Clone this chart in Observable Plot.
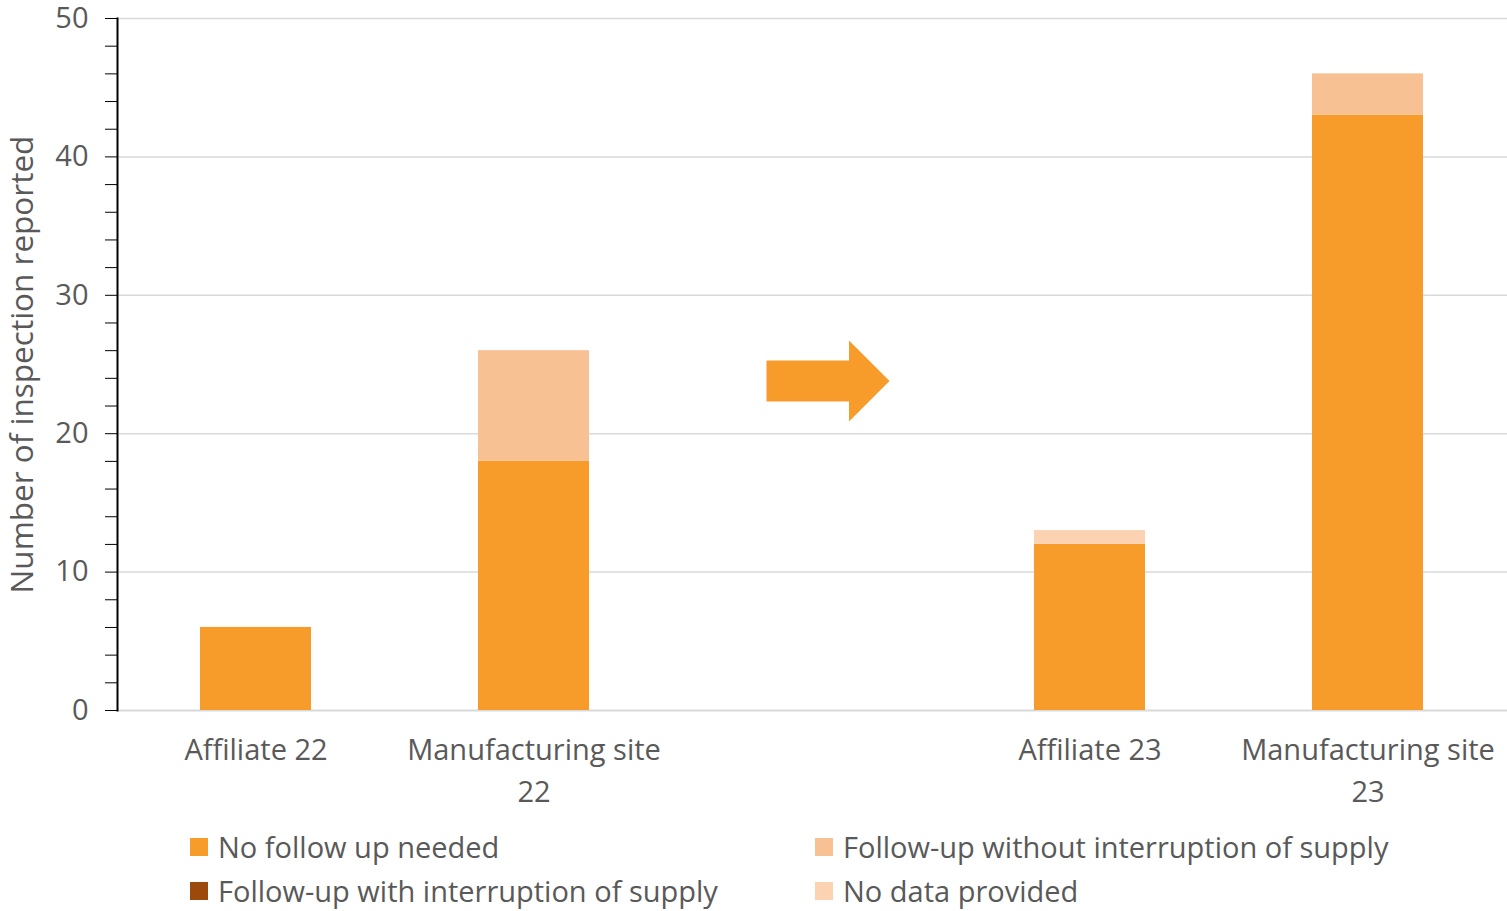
<!DOCTYPE html>
<html><head><meta charset="utf-8">
<script src="https://cdn.jsdelivr.net/npm/d3@7"></script>
<script src="https://cdn.jsdelivr.net/npm/@observablehq/plot@0.6"></script>
<style>
body{margin:0;background:#fff;font-family:"Open Sans", sans-serif;}
#legend{position:relative;height:90px;width:1507px;}
.li{position:absolute;display:flex;align-items:center;font-size:29px;color:#595959;white-space:nowrap;}
.sw{width:18px;height:18px;margin-right:10px;}
</style></head>
<body>
<div id="chart"></div>
<div id="legend"></div>
<script>
const categories = ["Affiliate 22", "Manufacturing site 22", "", "Affiliate 23", "Manufacturing site 23"];
const catLabels = ["Affiliate 22", "Manufacturing site\n22", "", "Affiliate 23", "Manufacturing site\n23"];
const seriesNames = ["No follow up needed", "Follow-up without interruption of supply", "Follow-up with interruption of supply", "No data provided"];
const seriesColors = ["#f79b2b", "#f8c193", "#9b4a0b", "#fcd3b2"];
const noFollowUp = [6, 18, null, 12, 43];
const followUpWithout = [0, 8, null, 0, 3];
const followUpWith = [0, 0, null, 0, 0];
const noData = [0, 0, null, 1, 0];
const yTicks = [0, 10, 20, 30, 40, 50];
const arrowMarker = [{cat: "", y: 23.8}];

const seriesValues = [noFollowUp, followUpWithout, followUpWith, noData];
const data = [];
categories.forEach((c, i) => {
  seriesValues.forEach((vals, s) => {
    if (vals[i] != null && vals[i] > 0) data.push({cat: c, series: seriesNames[s], value: vals[i]});
  });
});
const labelOf = new Map(categories.map((c, i) => [c, catLabels[i]]));

const arrowSymbol = {
  draw(ctx) {
    ctx.moveTo(-61.5, -20.5);
    ctx.lineTo(21, -20.5);
    ctx.lineTo(21, -40.5);
    ctx.lineTo(61.5, 0);
    ctx.lineTo(21, 40.5);
    ctx.lineTo(21, 20.5);
    ctx.lineTo(-61.5, 20.5);
    ctx.closePath();
  }
};

const plot = Plot.plot({
  width: 1507,
  height: 820,
  marginTop: 18,
  marginBottom: 110,
  marginLeft: 117,
  marginRight: 0,
  style: {fontFamily: "'Open Sans', sans-serif", color: "#595959", background: "#fff", overflow: "visible"},
  x: {domain: categories, paddingInner: 0.6, paddingOuter: 0.3, label: null},
  y: {domain: [0, 50], label: null},
  color: {domain: seriesNames, range: seriesColors},
  marks: [
    Plot.ruleY(yTicks.filter(d => d > 0), {stroke: "#d9d9d9", strokeWidth: 1.5}),
    Plot.ruleY([0], {stroke: "#d9d9d9", strokeWidth: 2}),
    Plot.barY(data, {x: "cat", y: "value", fill: "series", order: seriesNames}),
    Plot.dot(arrowMarker, {x: "cat", y: "y", symbol: arrowSymbol, r: 10, fill: "#f79b2b", stroke: null, dx: 16}),
    Plot.frame({anchor: "left", stroke: "#000", strokeWidth: 2}),
    Plot.axisY({ticks: d3.range(0, 51, 2), tickFormat: d => d % 10 === 0 ? d : "", tickSize: 12, tickPadding: 17, stroke: "#000", fontSize: 29, fill: "#595959", label: null}),
    Plot.axisX({tickSize: 0, tickPadding: 20, tickFormat: d => labelOf.get(d), fontSize: 29, fill: "#595959", lineHeight: 1.45, label: null}),
    Plot.text(["Number of inspection reported"], {frameAnchor: "left", textAnchor: "middle", rotate: -90, dx: -95, fontSize: 31.5, fill: "#595959"})
  ]
});
document.getElementById("chart").appendChild(plot);

const legendPos = [[190, 28], [815, 28], [190, 72], [815, 72]];
const leg = document.getElementById("legend");
seriesNames.forEach((n, i) => {
  const d = document.createElement("div");
  d.className = "li";
  d.style.left = legendPos[i][0] + "px";
  d.style.top = (legendPos[i][1] - 21) + "px";
  d.innerHTML = `<span class="sw" style="background:${seriesColors[i]}"></span><span>${n}</span>`;
  leg.appendChild(d);
});
</script>
</body></html>
